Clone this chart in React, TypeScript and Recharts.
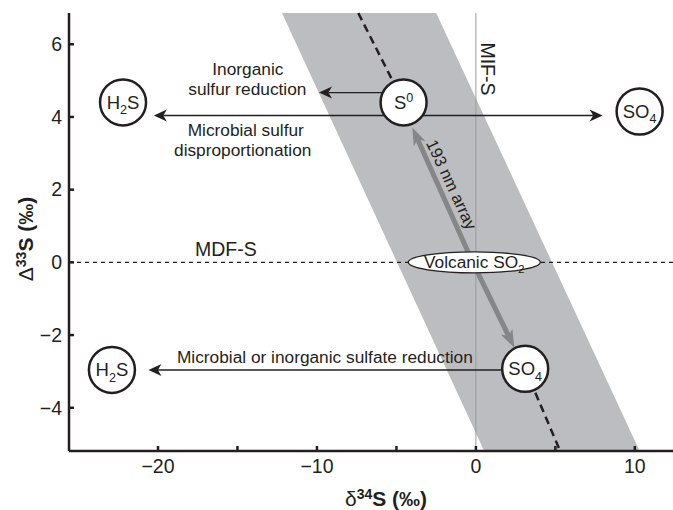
import { ComposedChart, XAxis, YAxis, Area, Scatter, ReferenceLine } from "recharts";

const FONT = '"Liberation Sans", Arial, Helvetica, sans-serif';
const INK = "#231f20";

// axes
const xDomain = [-25.6, 12.4];
const yDomain = [-5.19, 6.86];
const xTicks = [-20, -15, -10, -5, 0, 5, 10];
const yTicks = [-4, -2, 0, 2, 4, 6];

// grey field of the 193 nm photolysis array (vertical slices: x, lower, upper)
const bandX = [-12.2, -2.5, 0.52, 10.3];
const bandLow = [6.86, -2.33, -5.19, -5.19];
const bandHigh = [6.86, 6.86, 4.02, -5.19];
const bandData = bandX.map((x, i) => ({ x, band: [bandLow[i], bandHigh[i]] }));

// sulfur species (circles)
const species = [
  { x: -22.2, y: 4.4, label: "H_2S" },
  { x: -4.55, y: 4.4, label: "S^0" },
  { x: 10.3, y: 4.15, label: "SO_4" },
  { x: -22.9, y: -2.96, label: "H_2S" },
  { x: 3.1, y: -2.93, label: "SO_4" },
];
const source = [{ x: -0.1, y: 0, label: "Volcanic SO_2" }];

// black process arrows
const processArrows = [
  { from: { x: -4.55, y: 4.67 }, to: { x: -9.87, y: 4.67 } },
  { from: { x: -4.55, y: 4.04 }, to: { x: -20.26, y: 4.04 } },
  { from: { x: -4.55, y: 4.04 }, to: { x: 7.97, y: 4.04 } },
  { from: { x: 3.1, y: -2.96 }, to: { x: -20.6, y: -2.96 } },
];

// grey 193 nm array arrows
const arrayArrows = [
  { from: { x: -0.2, y: 0 }, to: { x: -4.0, y: 3.71 } },
  { from: { x: -0.2, y: 0 }, to: { x: 2.42, y: -2.35 } },
];

// dashed trend line outside the array
const trendSegments = [
  [{ x: -7.4, y: 6.86 }, { x: -4.55, y: 4.4 }],
  [{ x: 3.1, y: -2.93 }, { x: 5.3, y: -5.19 }],
];

// text annotations
const notes = [
  { x: -14.35, y: 5.31, text: "Inorganic", size: 17.3, angle: 0 },
  { x: -14.38, y: 4.76, text: "sulfur reduction", size: 17.3, angle: 0 },
  { x: -14.48, y: 3.63, text: "Microbial sulfur", size: 17.3, angle: 0 },
  { x: -14.67, y: 3.1, text: "disproportionation", size: 17.3, angle: 0 },
  { x: -15.73, y: 0.35, text: "MDF-S", size: 19.5, angle: 0 },
  { x: -9.5, y: -2.6, text: "Microbial or inorganic sulfate reduction", size: 17.3, angle: 0 },
  { x: 0.77, y: 5.32, text: "MIF-S", size: 19.5, angle: 90 },
  { x: -1.53, y: 2.14, text: "193 nm array", size: 16.5, angle: 65 },
];

function chem(s: string, size: number) {
  const parts: { t: string; k: string }[] = [];
  let buf = "";
  for (let i = 0; i < s.length; i++) {
    const c = s[i];
    if (c === "_" || c === "^") {
      if (buf) parts.push({ t: buf, k: "n" });
      buf = "";
      parts.push({ t: s[i + 1], k: c === "_" ? "sub" : "sup" });
      i++;
    } else buf += c;
  }
  if (buf) parts.push({ t: buf, k: "n" });
  let cur = 0;
  return parts.map((p, j) => {
    const target = p.k === "sub" ? size * 0.28 : p.k === "sup" ? -size * 0.36 : 0;
    const dy = target - cur;
    cur = target;
    return (
      <tspan key={j} dy={dy} fontSize={p.k === "n" ? size : size * 0.68}>
        {p.t}
      </tspan>
    );
  });
}

const SpeciesShape = (props: any) => {
  const { cx, cy, payload } = props;
  return (
    <g>
      <circle cx={cx} cy={cy} r={23} fill="#fff" stroke={INK} strokeWidth={2.5} />
      <text x={cx} y={cy + 6.5} textAnchor="middle" fontFamily={FONT} fill={INK}>
        {chem(payload.label, 18.5)}
      </text>
    </g>
  );
};

const SourceShape = (props: any) => {
  const { cx, cy, payload } = props;
  return (
    <g>
      <ellipse cx={cx} cy={cy} rx={66} ry={10.5} fill="#fff" stroke={INK} strokeWidth={1.3} />
      <text x={cx} y={cy + 6} textAnchor="middle" fontFamily={FONT} fill={INK}>
        {chem(payload.label, 17.3)}
      </text>
    </g>
  );
};

const NoteShape = (props: any) => {
  const { cx, cy, payload } = props;
  return (
    <text
      x={cx}
      y={cy}
      dy="0.35em"
      textAnchor="middle"
      fontFamily={FONT}
      fontSize={payload.size}
      fill={INK}
      transform={payload.angle ? `rotate(${payload.angle}, ${cx}, ${cy})` : undefined}
    >
      {payload.text}
    </text>
  );
};

function arrowShape(color: string, lineW: number, headL: number, headW: number) {
  return (p: any) => {
    const { x1, y1, x2, y2 } = p;
    const dx = x2 - x1;
    const dy = y2 - y1;
    const len = Math.hypot(dx, dy) || 1;
    const ux = dx / len;
    const uy = dy / len;
    const nx = -uy;
    const ny = ux;
    const bx = x2 - ux * headL;
    const by = y2 - uy * headL;
    const mx = x2 - ux * headL * 0.72;
    const my = y2 - uy * headL * 0.72;
    return (
      <g>
        <line x1={x1} y1={y1} x2={mx} y2={my} stroke={color} strokeWidth={lineW} />
        <polygon
          points={`${x2},${y2} ${bx + (nx * headW) / 2},${by + (ny * headW) / 2} ${mx},${my} ${bx - (nx * headW) / 2},${by - (ny * headW) / 2}`}
          fill={color}
        />
      </g>
    );
  };
}

const fmt = (v: number) => (v < 0 ? `\u2212${Math.abs(v)}` : `${v}`);

const XTick = (props: any) => {
  const { x, y, payload } = props;
  const v = payload.value;
  return (
    <g>
      <line x1={x} x2={x} y1={y} y2={y - 5} stroke={INK} strokeWidth={2.5} />
      {v % 10 === 0 && (
        <text x={x} y={y + 22} textAnchor="middle" fontFamily={FONT} fontSize={19.5} fill={INK}>
          {fmt(v)}
        </text>
      )}
    </g>
  );
};

const YTick = (props: any) => {
  const { x, y, payload } = props;
  return (
    <g>
      <line x1={x} x2={x + 5} y1={y} y2={y} stroke={INK} strokeWidth={2.5} />
      <text x={x - 7} y={y} dy="0.35em" textAnchor="end" fontFamily={FONT} fontSize={19.5} fill={INK}>
        {fmt(payload.value)}
      </text>
    </g>
  );
};

const XTitle = () => (
  <text x={386} y={506} textAnchor="middle" fontFamily={FONT} fontSize={21} fontWeight="bold" fill={INK}>
    <tspan fontWeight="normal">δ</tspan>
    <tspan dy={-7} fontSize={14}>34</tspan>
    <tspan dy={7}>S (‰)</tspan>
  </text>
);

const YTitle = () => (
  <text
    x={33}
    y={239}
    textAnchor="middle"
    fontFamily={FONT}
    fontSize={21}
    fontWeight="bold"
    fill={INK}
    transform="rotate(-90, 33, 239)"
  >
    <tspan fontWeight="normal">Δ</tspan>
    <tspan dy={-7} fontSize={14}>33</tspan>
    <tspan dy={7}>S (‰)</tspan>
  </text>
);

export default function App() {
  return (
    <div style={{ position: "absolute", left: 0, top: 0, background: "#fff" }}>
      <ComposedChart width={673} height={510} margin={{ top: 13, right: 0, bottom: 0, left: 0 }}>
        <XAxis
          dataKey="x"
          type="number"
          domain={xDomain}
          ticks={xTicks}
          interval={0}
          allowDataOverflow
          height={59}
          tickSize={0}
          tickMargin={0}
          tickLine={false}
          tick={<XTick />}
          axisLine={{ stroke: INK, strokeWidth: 2.5 }}
          label={XTitle}
        />
        <XAxis
          xAxisId="top"
          orientation="top"
          type="number"
          domain={xDomain}
          allowDataOverflow
          height={0}
          tick={false}
          tickLine={false}
          axisLine={{ stroke: INK, strokeWidth: 2 }}
        />
        <YAxis
          dataKey="y"
          type="number"
          domain={yDomain}
          ticks={yTicks}
          interval={0}
          allowDataOverflow
          width={69}
          tickSize={0}
          tickMargin={0}
          tickLine={false}
          tick={<YTick />}
          axisLine={{ stroke: INK, strokeWidth: 2.5 }}
          label={YTitle}
        />
        <Area
          data={bandData}
          dataKey="band"
          type="linear"
          stroke="none"
          fill="#bcbdc0"
          fillOpacity={1}
          isAnimationActive={false}
          dot={false}
          activeDot={false}
        />
        <ReferenceLine x={0} stroke="#9b9b9b" strokeWidth={1} ifOverflow="visible" />
        <ReferenceLine y={0} stroke={INK} strokeWidth={1.1} strokeDasharray="4 4" ifOverflow="visible" />
        {trendSegments.map((seg, i) => (
          <ReferenceLine
            key={`t${i}`}
            segment={seg}
            stroke={INK}
            strokeWidth={2.5}
            strokeDasharray="8 5"
            ifOverflow="visible"
          />
        ))}
        {processArrows.map((a, i) => (
          <ReferenceLine
            key={`p${i}`}
            segment={[a.from, a.to]}
            ifOverflow="visible"
            shape={arrowShape(INK, 1.4, 13, 12)}
          />
        ))}
        {arrayArrows.map((a, i) => (
          <ReferenceLine
            key={`g${i}`}
            segment={[a.from, a.to]}
            ifOverflow="visible"
            shape={arrowShape("#858688", 5, 18, 13)}
          />
        ))}
        <Scatter data={species} shape={SpeciesShape} isAnimationActive={false} />
        <Scatter data={source} shape={SourceShape} isAnimationActive={false} />
        <Scatter data={notes} shape={NoteShape} isAnimationActive={false} />
      </ComposedChart>
    </div>
  );
}
